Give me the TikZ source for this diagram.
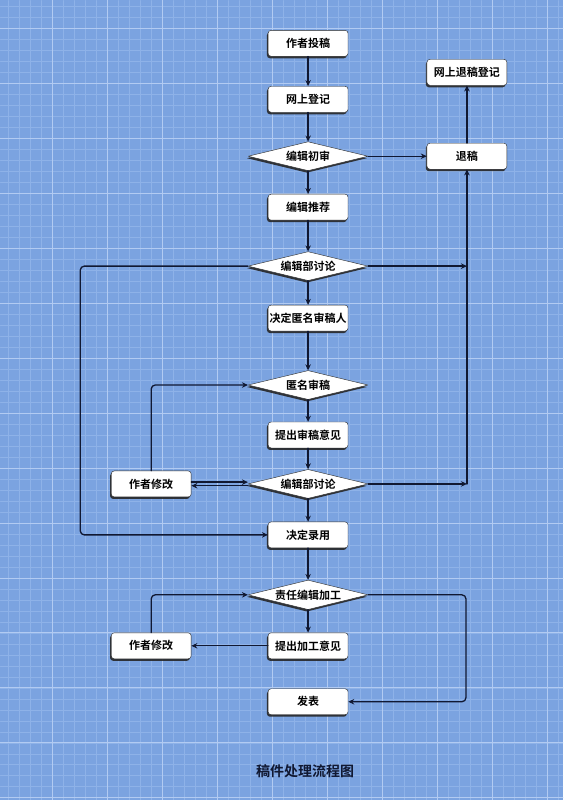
\documentclass[tikz,border=0pt]{standalone}
\usepackage{fontspec}
\setmainfont{Noto Sans CJK SC}[BoldFont={Noto Sans CJK SC Bold}]
\usetikzlibrary{shapes.geometric,shadows,arrows.meta}
\definecolor{beijing}{RGB}{123,163,224}
\definecolor{xiaoge}{RGB}{142,178,232}
\definecolor{dage}{RGB}{178,203,242}
\definecolor{xianse}{RGB}{16,24,50}
\begin{document}
\begin{tikzpicture}[x=1pt, y=-1pt, font=\fontsize{11}{13}\selectfont\bfseries, line join=round, line cap=round, >={Stealth[length=6pt,width=5.5pt]}]
			\tikzset{kuang/.style={draw=black!85, fill=white, rounded corners=3pt, minimum width=80pt, minimum height=26pt, inner sep=1pt, drop shadow={shadow xshift=-1.2pt, shadow yshift=-2pt, fill=black!85, opacity=0.9}},
				lingxing/.style={diamond, draw=black!85, fill=white, aspect=4, minimum width=120pt, minimum height=29pt, inner sep=1pt, drop shadow={shadow xshift=-1.2pt, shadow yshift=-2pt, fill=black!85, opacity=0.9}},
				xian/.style={draw=xianse, line width=1.3pt, rounded corners=4pt},
				gexiao/.style={xiaoge, line width=0.4pt},
				geda/.style={dage, line width=0.7pt}}
			% 背景网格
			\fill[beijing] (0,0) rectangle (563,800);
			\foreach \i in {0,...,50} \draw[gexiao] ({8+11*\i},0) -- ++(0,800);
			\foreach \j in {0,...,72} \draw[gexiao] (0,{6+11*\j}) -- ++(563,0);
			\foreach \i in {0,...,9} \draw[geda] ({52+55*\i},0) -- ++(0,800);
			\foreach \j in {0,...,14} \draw[geda] (0,{28+55*\j}) -- ++(563,0);
			\useasboundingbox (0,0) rectangle (563,800);
			% 节点
			\node[kuang] (tougao) at (308,43) {作者投稿};
			\node[kuang] (dengji) at (308,99) {网上登记};
			\node[lingxing] (chushen) at (308,156) {编辑初审};
			\node[kuang] (tuigao) at (467,156) {退稿};
			\node[kuang] (tuidengji) at (467,72) {网上退稿登记};
			\node[kuang] (tuijian) at (308,207) {编辑推荐};
			\node[lingxing] (taolun1) at (308,266) {编辑部讨论};
			\node[kuang] (renxuan) at (308,318) {决定匿名审稿人};
			\node[lingxing] (niming) at (308,385) {匿名审稿};
			\node[kuang] (shengao) at (308,435) {提出审稿意见};
			\node[lingxing] (taolun2) at (308,484) {编辑部讨论};
			\node[kuang] (xiugai1) at (151,484) {作者修改};
			\node[kuang] (luyong) at (308,535) {决定录用};
			\node[lingxing] (jiagong) at (308,595) {责任编辑加工};
			\node[kuang] (jgyijian) at (308,646) {提出加工意见};
			\node[kuang] (xiugai2) at (151,646) {作者修改};
			\node[kuang] (fabiao) at (308,702) {发表};
			\node[font=\fontsize{14}{16}\selectfont\bfseries, text=xianse] (biaoti) at (305,771) {稿件处理流程图};
			\path (467,266) coordinate (r1) (467,484) coordinate (r2) (80,400) coordinate (zuo) (466,650) coordinate (you);
			% 连线
			\draw[xian,->] (tougao) -- (dengji);
			\draw[xian,->] (dengji) -- (chushen);
			\draw[xian,->] (chushen) -- (tuigao);
			\draw[xian,->] (tuigao) -- (tuidengji);
			\draw[xian,->] (chushen) -- (tuijian);
			\draw[xian,->] (tuijian) -- (taolun1);
			\draw[xian,->] (taolun1.east) -- (r1);
			\draw[xian,->] (taolun1.west) -| (zuo) |- (luyong.west);
			\draw[xian,->] (taolun1) -- (renxuan);
			\draw[xian,->] (renxuan) -- (niming);
			\draw[xian,->] (niming) -- (shengao);
			\draw[xian,->] (shengao) -- (taolun2);
			\draw[xian,->] (taolun2.east) -- (r2);
			\draw[xian,->] (r2) -- (tuigao.south);
			\draw[xian,->] ([yshift=-1.8pt]taolun2.west) -- ([yshift=-1.8pt]xiugai1.east);
			\draw[xian,->] ([yshift=1.8pt]xiugai1.east) -- ([yshift=1.8pt]taolun2.west);
			\draw[xian,->] (xiugai1.north) |- (niming.west);
			\draw[xian,->] (taolun2) -- (luyong);
			\draw[xian,->] (luyong) -- (jiagong);
			\draw[xian,->] (jiagong) -- (jgyijian);
			\draw[xian,->] (jgyijian) -- (xiugai2);
			\draw[xian,->] (xiugai2.north) |- (jiagong.west);
			\draw[xian,->] (jiagong.east) -| (you) |- (fabiao.east);
		\end{tikzpicture}
\end{document}
